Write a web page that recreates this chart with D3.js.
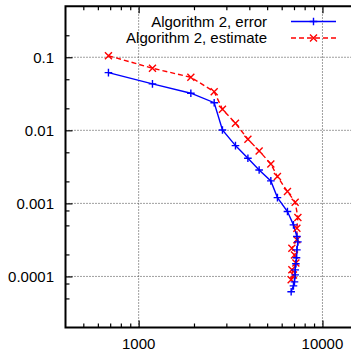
<!DOCTYPE html>
<html>
<head>
<meta charset="utf-8">
<script src="https://cdn.jsdelivr.net/npm/d3@7"></script>
<style>
  body { margin: 0; background: #fff; }
  svg { display: block; font-family: "Liberation Sans", Arial, sans-serif; }
</style>
</head>
<body>
<div id="chart"></div>
<script>
// data
const errX = [685, 1189, 1923, 2576, 2857, 3363, 3930, 4524, 5238, 5689, 6450, 6953, 7258, 7350, 7258, 7222, 7167, 7104, 7104, 7042, 6953, 6756];
const errY = [0.0616, 0.0432, 0.0322, 0.0239, 0.0101, 0.00618, 0.00415, 0.00287, 0.00203, 0.0012, 0.000773, 0.000508, 0.000352, 0.000297, 0.000231, 0.00018, 0.000149, 0.000123, 0.000105, 0.0000843, 0.0000743, 0.0000616];
const estX = [685, 1189, 1923, 2576, 2857, 3363, 3930, 4524, 5238, 5689, 6450, 7104, 7350, 7258, 7258, 6816, 7042, 7167, 6816, 6953, 6756];
const estY = [0.105, 0.0707, 0.0532, 0.0338, 0.0194, 0.0125, 0.00755, 0.00523, 0.00347, 0.00233, 0.00145, 0.00104, 0.00064, 0.000458, 0.000317, 0.000244, 0.000197, 0.000153, 0.000123, 0.000105, 0.0000898];
const xMajor = [1000, 10000];
const xMajorLabels = ["1000", "10000"];
const xMinor = [500, 600, 700, 800, 900, 2000, 3000, 4000, 5000, 6000, 7000, 8000, 9000];
const yMajor = [0.1, 0.01, 0.001, 0.0001];
const yMajorLabels = ["0.1", "0.01", "0.001", "0.0001"];
const yMinor = [0.2, 0.05, 0.02, 0.005, 0.002, 0.0008, 0.0005, 0.0002, 0.00008, 0.00005];
const seriesNames = ["Algorithm 2, error", "Algorithm 2, estimate"];

const width = 351, height = 351;
const svg = d3.select("#chart").append("svg")
    .attr("width", width)
    .attr("height", height);

const x = d3.scaleLog().domain([400, 20000]).range([65.5, 377.8]);
const y = d3.scaleLog().domain([2e-5, 0.5]).range([327.5, 6.2]);

const plotLeft = x.range()[0], plotRight = x.range()[1];
const plotTop = y.range()[1], plotBottom = y.range()[0];

// grid
const grid = svg.append("g").attr("stroke", "#000").attr("stroke-width", 1)
    .attr("stroke-dasharray", "1,2").attr("opacity", 0.75);
grid.selectAll(".gx").data(xMajor).join("line")
    .attr("x1", d => x(d)).attr("x2", d => x(d))
    .attr("y1", plotBottom).attr("y2", plotTop);
grid.selectAll(".gy").data(yMajor).join("line")
    .attr("x1", plotLeft).attr("x2", plotRight)
    .attr("y1", d => y(d)).attr("y2", d => y(d));

// axes with inward ticks
const axisG = svg.append("g");
const bx = axisG.append("g").attr("transform", `translate(0,${plotBottom})`)
    .call(d3.axisBottom(x).tickValues(xMinor).tickSize(-4).tickFormat(""));
bx.append("g").call(d3.axisBottom(x).tickValues(xMajor).tickSize(-7).tickFormat(""));
const tx = axisG.append("g").attr("transform", `translate(0,${plotTop})`)
    .call(d3.axisTop(x).tickValues(xMinor).tickSize(-4).tickFormat(""));
tx.append("g").call(d3.axisTop(x).tickValues(xMajor).tickSize(-7).tickFormat(""));
const ly = axisG.append("g").attr("transform", `translate(${plotLeft},0)`)
    .call(d3.axisLeft(y).tickValues(yMinor).tickSize(-4).tickFormat(""));
ly.append("g").call(d3.axisLeft(y).tickValues(yMajor).tickSize(-7).tickFormat(""));
svg.selectAll(".domain").remove();
svg.selectAll(".tick line").attr("stroke", "#000").attr("stroke-width", 1.2);

// frame: left, bottom, top
svg.append("path")
    .attr("d", `M${plotRight},${plotTop}H${plotLeft}V${plotBottom}H${plotRight}`)
    .attr("fill", "none").attr("stroke", "#000").attr("stroke-width", 2);

// tick labels
svg.append("g").selectAll("text").data(xMajor).join("text")
    .attr("x", d => x(d)).attr("y", 348.5)
    .attr("text-anchor", "middle").attr("font-size", 15)
    .text((d, i) => xMajorLabels[i]);
svg.append("g").selectAll("text").data(yMajor).join("text")
    .attr("x", 54).attr("y", d => y(d)).attr("dy", "0.36em")
    .attr("text-anchor", "end").attr("font-size", 15)
    .text((d, i) => yMajorLabels[i]);

const errData = errX.map((v, i) => [v, errY[i]]);
const estData = estX.map((v, i) => [v, estY[i]]);
const line = d3.line().x(d => x(d[0])).y(d => y(d[1]));

const plot = svg.append("g");
plot.append("path").datum(estData).attr("d", line)
    .attr("fill", "none").attr("stroke", "#ff0000").attr("stroke-width", 1.4)
    .attr("stroke-dasharray", "5,3");
plot.append("path").datum(errData).attr("d", line)
    .attr("fill", "none").attr("stroke", "#0000ff").attr("stroke-width", 1.4);

const plus = (g, px, py, s) => g.append("path")
    .attr("d", `M${px - s},${py}H${px + s}M${px},${py - s}V${py + s}`)
    .attr("stroke", "#0000ff").attr("stroke-width", 1.4);
const cross = (g, px, py, s) => g.append("path")
    .attr("d", `M${px - s},${py - s}L${px + s},${py + s}M${px - s},${py + s}L${px + s},${py - s}`)
    .attr("stroke", "#ff0000").attr("stroke-width", 1.4);

estData.forEach(d => cross(plot, x(d[0]), y(d[1]), 3.5));
errData.forEach(d => plus(plot, x(d[0]), y(d[1]), 3.8));

// legend
const legY = [21.5, 38];
const leg = svg.append("g");
seriesNames.forEach((name, i) => {
    leg.append("text").attr("x", 267).attr("y", legY[i]).attr("dy", "0.36em")
        .attr("text-anchor", "end").attr("font-size", 15).text(name);
    const ln = leg.append("line").attr("x1", 291).attr("x2", 336)
        .attr("y1", legY[i]).attr("y2", legY[i]).attr("stroke-width", 1.4);
    if (i === 0) {
        ln.attr("stroke", "#0000ff");
        plus(leg, 313.5, legY[i], 3.8);
    } else {
        ln.attr("stroke", "#ff0000").attr("stroke-dasharray", "5,3");
        cross(leg, 313.5, legY[i], 3.5);
    }
});
</script>
</body>
</html>
